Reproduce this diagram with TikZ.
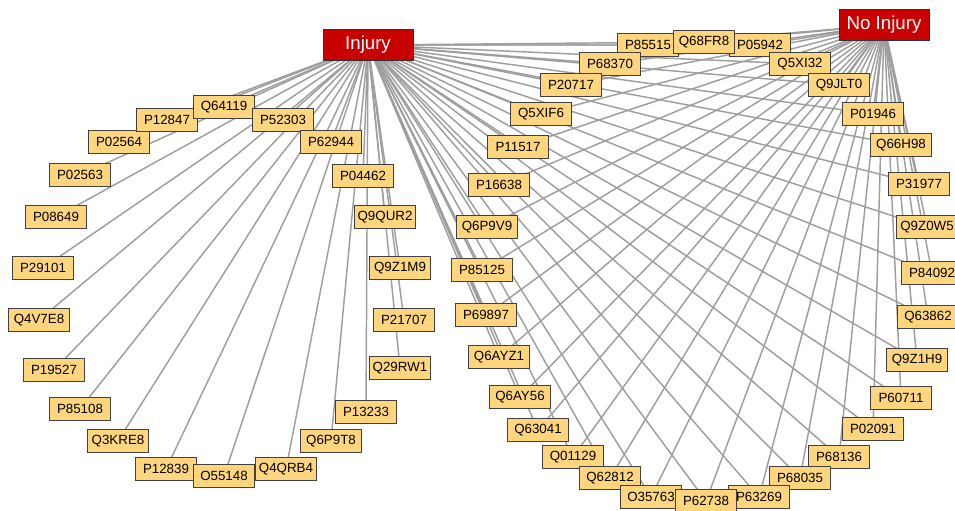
\documentclass[tikz,border=0pt]{standalone}
\usepackage{fontspec}
\setmainfont{Liberation Sans}
\usetikzlibrary{backgrounds}

\definecolor{protfill}{RGB}{255,214,125}
\definecolor{groupred}{RGB}{200,0,0}
\definecolor{linkgray}{RGB}{158,158,158}

\tikzset{
  protein/.style={draw=black!75, fill=protfill, minimum width=45.5pt, minimum height=17.5pt,
    inner sep=0pt, font=\fontsize{10}{12}\selectfont},
  group/.style={draw=black!80, fill=groupred, text=white, minimum width=67.5pt, minimum height=23.5pt,
    inner sep=0pt, font=\fontsize{14}{16}\selectfont},
  link/.style={draw=linkgray, line width=1.1pt}
}

\begin{document}
\begin{tikzpicture}[x=0.75pt,y=-0.75pt]
\useasboundingbox (0,0) rectangle (955,510);

% class nodes
\node[group] (injury) at (368,45) {Injury};
\node[group] (noinjury) at (884,25) {No Injury};

% proteins seen only with injury
\foreach \name/\x/\y in {P02563/80/175, P08649/56/217, P29101/43/268, Q4V7E8/39/320,
    P19527/54/370, P85108/80/409, Q3KRE8/118/441, P12839/166/469, Q4QRB4/286/469,
    O55148/224/476, Q6P9T8/331/441, P13233/366/412, Q29RW1/400/368, P21707/404/320,
    Q9Z1M9/400/268, Q9QUR2/385/217, P04462/363/176, P02564/119/142, P12847/167/120,
    Q64119/224/107, P52303/283/120, P62944/331/142}
  \node[protein] (\name) at (\x,\y) {\name};

% proteins seen with both
\foreach \name/\x/\y in {P85515/648/45, P05942/760/45, Q68FR8/704/42, P68370/610/64,
    Q5XI32/800/64, P20717/571/85, Q9JLT0/839/85, Q5XIF6/541/114, P01946/873/114,
    P11517/518/147, Q66H98/901/145, P16638/499/185, P31977/919/184, Q6P9V9/487/227,
    Q9Z0W5/927/227, P85125/482/270, P84092/932/273, P69897/486/315, Q63862/928/317,
    Q6AYZ1/499/357, Q9Z1H9/917/360, Q6AY56/520/397, P60711/901/398, Q63041/538/430,
    P02091/873/429, Q01129/573/457, P68136/839/457, Q62812/610/478, P68035/800/478,
    O35763/651/497, P63269/759/497, P62738/706/501}
  \node[protein] (\name) at (\x,\y) {\name};

% links
\begin{scope}[on background layer]
  \foreach \name in {P02563, P08649, P29101, Q4V7E8, P19527, P85108, Q3KRE8, P12839,
      Q4QRB4, O55148, Q6P9T8, P13233, Q29RW1, P21707, Q9Z1M9, Q9QUR2, P04462, P02564,
      P12847, Q64119, P52303, P62944}
    \draw[link] (injury.center) -- (\name.center);
  \foreach \name in {P85515, P05942, Q68FR8, P68370, Q5XI32, P20717, Q9JLT0, Q5XIF6,
      P01946, P11517, Q66H98, P16638, P31977, Q6P9V9, Q9Z0W5, P85125, P84092, P69897,
      Q63862, Q6AYZ1, Q9Z1H9, Q6AY56, P60711, Q63041, P02091, Q01129, P68136, Q62812,
      P68035, O35763, P63269, P62738}
    \draw[link] (injury.center) -- (\name.center) (noinjury.center) -- (\name.center);
\end{scope}
\end{tikzpicture}
\end{document}
